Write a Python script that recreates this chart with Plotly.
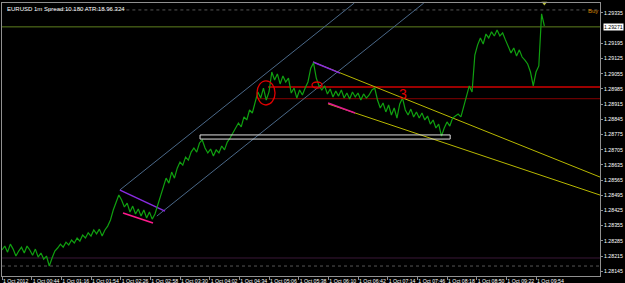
import plotly.graph_objects as go

# ---------------- data ----------------
title_text = "EURUSD 1m Spread:10.180 ATR:18.96.324"
bar_step = 3  # one sample every 3 one-minute bars
price = [
    1.28243, 1.28261, 1.28233, 1.28270, 1.28247, 1.28215, 1.28238, 1.28256, 1.28229, 1.28261,
    1.28243, 1.28219, 1.28247, 1.28210, 1.28229, 1.28201, 1.28215, 1.28169, 1.28206, 1.28238,
    1.28252, 1.28270, 1.28256, 1.28279, 1.28266, 1.28289, 1.28275, 1.28298, 1.28284, 1.28312,
    1.28298, 1.28322, 1.28307, 1.28335, 1.28317, 1.28339,
    1.28307, 1.28335, 1.28353, 1.28381, 1.28427, 1.28459, 1.28496, 1.28473, 1.28441, 1.28459,
    1.28418, 1.28445, 1.28409, 1.28432, 1.28399, 1.28427, 1.28390, 1.28418, 1.28385, 1.28409,
    1.28450, 1.28492, 1.28538, 1.28574, 1.28551, 1.28602, 1.28574, 1.28620, 1.28648, 1.28634,
    1.28671, 1.28657, 1.28694, 1.28713, 1.28694, 1.28736, 1.28750, 1.28713, 1.28690, 1.28708,
    1.28676, 1.28704, 1.28690, 1.28722, 1.28704, 1.28740, 1.28759, 1.28782, 1.28805, 1.28828,
    1.28810, 1.28856, 1.28842, 1.28888, 1.28874, 1.28920, 1.28971, 1.28943, 1.28989, 1.28934,
    1.28971, 1.29063, 1.29026, 1.29054, 1.29008, 1.29045, 1.29017, 1.29035, 1.28966, 1.28989,
    1.28943, 1.28980, 1.28957, 1.28989, 1.29017, 1.29081, 1.29105, 1.29035, 1.28999, 1.28980,
    1.28999, 1.28962, 1.28985, 1.28948, 1.28975, 1.28952, 1.28980, 1.28943, 1.28966, 1.28939,
    1.28971, 1.28948, 1.28966, 1.28934, 1.28962, 1.28943, 1.28957, 1.28980, 1.28989, 1.28934,
    1.28897, 1.28920, 1.28879, 1.28911, 1.28865, 1.28897, 1.28851, 1.28916, 1.28943, 1.28888,
    1.28865, 1.28892, 1.28856, 1.28879, 1.28851, 1.28874, 1.28842, 1.28860, 1.28823, 1.28842,
    1.28805, 1.28823, 1.28768, 1.28805, 1.28833, 1.28814, 1.28851, 1.28860, 1.28869, 1.28856,
    1.28906, 1.28943, 1.28999, 1.28971, 1.29141, 1.29188, 1.29220, 1.29192, 1.29238, 1.29220,
    1.29248, 1.29229, 1.29257, 1.29229, 1.29243, 1.29211, 1.29178, 1.29151, 1.29174, 1.29137,
    1.29165, 1.29132, 1.29118, 1.29100, 1.29063, 1.28999, 1.29063, 1.29091, 1.29331, 1.29275,
]
bars = [i * bar_step for i in range(len(price))]

time_ticks = [0, 32, 64, 96, 128, 160, 192, 224, 256, 288, 320, 352, 384, 416, 448, 480, 512, 544, 576]
time_labels = ["1 Oct 2012", "1 Oct 00:44", "1 Oct 01:16", "1 Oct 01:54", "1 Oct 02:26",
               "1 Oct 02:58", "1 Oct 03:30", "1 Oct 04:02", "1 Oct 04:34", "1 Oct 05:06",
               "1 Oct 05:38", "1 Oct 06:10", "1 Oct 06:42", "1 Oct 07:14", "1 Oct 07:46",
               "1 Oct 08:18", "1 Oct 08:50", "1 Oct 09:22", "1 Oct 09:54"]
price_ticks = [1.28145, 1.28215, 1.28285, 1.28355, 1.28425, 1.28495, 1.28565, 1.28635,
               1.28705, 1.28775, 1.28845, 1.28915, 1.28985, 1.29055, 1.29125, 1.29195, 1.29335]
current_price = 1.29271
ask_level = 1.29349

# drawn objects: (bar, price) endpoints
blue_up_bars, blue_up_prices = [127, 380], [1.28519, 1.29381]
blue_lo_bars, blue_lo_prices = [167, 455], [1.28399, 1.29381]
yellow_up_bars, yellow_up_prices = [335.5, 645], [1.29109, 1.28579]
yellow_lo_bars, yellow_lo_prices = [351.7, 645], [1.28916, 1.28496]
violet1_bars, violet1_prices = [127.3, 175.8], [1.28519, 1.28422]
pink1_bars, pink1_prices = [130.5, 162.9], [1.28413, 1.28367]
violet2_bars, violet2_prices = [335.5, 364.6], [1.29109, 1.29058]
pink2_bars, pink2_prices = [351.7, 380.8], [1.28920, 1.28874]
red_level, red_start = 1.28994, 287
darkred_level, darkred_start = 1.28940, 276
purple_level = 1.28206
dotted_low_level = 1.28169
rect_bars, rect_prices = [213.6, 483.4], [1.28754, 1.28773]
circle_bars, circle_prices = [275, 294.5], [1.28911, 1.29022]
ellipse_bars, ellipse_prices = [334.4, 345.2], [1.28989, 1.29017]
label3_bar, label3_price = 432.6, 1.28962
arrow_bar, arrow_price = 585, 1.29381

X_MAX = 645
Y_MIN, Y_MAX = 1.28123, 1.29381
FONT = "Liberation Sans"

fig = go.Figure()

def seg(xs, ys, color, width=1, dash=None):
    fig.add_trace(go.Scatter(x=xs, y=ys, mode="lines", hoverinfo="skip",
                             line=dict(color=color, width=width, dash=dash), showlegend=False))

# horizontal levels
seg([0, X_MAX], [current_price, current_price], "#5f7f1f")
seg([50, X_MAX], [ask_level, ask_level], "#555555", dash="dot")
seg([0, X_MAX], [purple_level, purple_level], "#3a1838")
seg([0, X_MAX], [dotted_low_level, dotted_low_level], "#555555", dash="dot")
seg([red_start, X_MAX], [red_level, red_level], "#d00000", width=1.3)
seg([darkred_start, X_MAX], [darkred_level, darkred_level], "#6a0000", width=1.3)

# channels
seg(blue_up_bars, blue_up_prices, "#4a6888")
seg(blue_lo_bars, blue_lo_prices, "#4a6888")
seg(yellow_up_bars, yellow_up_prices, "#b8b800")
seg(yellow_lo_bars, yellow_lo_prices, "#b8b800")
seg(violet1_bars, violet1_prices, "#8a2be2", width=1.5)
seg(pink1_bars, pink1_prices, "#ff1a8c", width=1.5)
seg(violet2_bars, violet2_prices, "#8a2be2", width=1.5)
seg(pink2_bars, pink2_prices, "#e01890", width=1.5)

# price line
fig.add_trace(go.Scatter(x=bars, y=price, mode="lines", line=dict(color="#10a010", width=1.2),
                         showlegend=False, hoverinfo="skip"))

fig.add_trace(go.Scatter(x=[arrow_bar], y=[arrow_price], mode="markers", cliponaxis=False,
                         marker=dict(symbol="triangle-down", size=5, color="#b8c040"),
                         showlegend=False, hoverinfo="skip"))

fig.add_shape(type="rect", xref="x", yref="y", x0=rect_bars[0], x1=rect_bars[1],
              y0=rect_prices[0], y1=rect_prices[1], line=dict(color="#e0e0e0", width=1))
fig.add_shape(type="circle", xref="x", yref="y", x0=circle_bars[0], x1=circle_bars[1],
              y0=circle_prices[0], y1=circle_prices[1], line=dict(color="#e00000", width=1.3))
fig.add_shape(type="circle", xref="x", yref="y", x0=ellipse_bars[0], x1=ellipse_bars[1],
              y0=ellipse_prices[0], y1=ellipse_prices[1], line=dict(color="#e00000", width=1.3))

fig.add_annotation(x=label3_bar, y=label3_price, xref="x", yref="y", text="3", showarrow=False,
                   font=dict(family=FONT, size=14, color="#e00000"))
fig.add_annotation(x=0.005, y=0.995, xref="paper", yref="paper", text=title_text, showarrow=False,
                   xanchor="left", yanchor="top", font=dict(family=FONT, size=6, color="#ffffff"))
fig.add_annotation(x=1.0, y=0.99, xref="paper", yref="paper", text="Buy", showarrow=False,
                   xanchor="right", yanchor="top", font=dict(family=FONT, size=6, color="#d08000"))
fig.add_annotation(x=1.0, y=current_price, xref="paper", yref="y", text=f"{current_price:.5f}",
                   showarrow=False, xanchor="left", xshift=3, bgcolor="#ffffff", borderpad=0,
                   font=dict(family=FONT, size=5.2, color="#000000"))

fig.update_layout(
    width=625, height=283, margin=dict(l=2, r=25, t=3, b=7, autoexpand=False),
    paper_bgcolor="#000000", plot_bgcolor="#000000", showlegend=False,
    xaxis=dict(range=[0, X_MAX], tickvals=time_ticks, ticktext=time_labels, showgrid=False,
               zeroline=False, showline=True, mirror=True, linecolor="#909090", linewidth=1,
               ticks="outside", ticklen=3, tickcolor="#909090", tickangle=0,
               ticklabelposition="outside right", automargin=False,
               tickfont=dict(family=FONT, size=5.2, color="#ffffff")),
    yaxis=dict(range=[Y_MIN, Y_MAX], side="right", tickvals=price_ticks,
               ticktext=[f"{v:.5f}" for v in price_ticks], showgrid=False, zeroline=False,
               showline=True, mirror=True, linecolor="#909090", linewidth=1, automargin=False,
               ticks="outside", ticklen=2, tickcolor="#909090",
               tickfont=dict(family=FONT, size=5.2, color="#ffffff")),
)

fig.write_html("out.html")
